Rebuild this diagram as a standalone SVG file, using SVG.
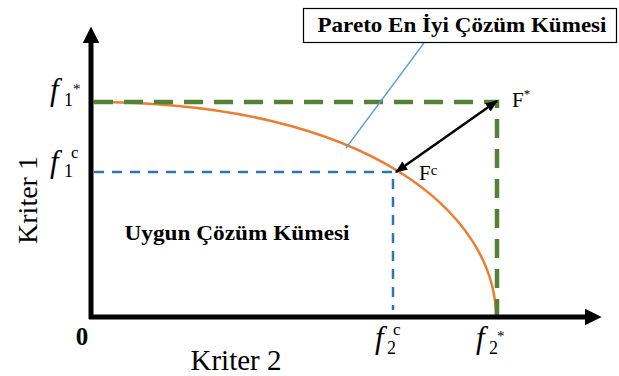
<svg xmlns="http://www.w3.org/2000/svg" width="619" height="376" viewBox="0 0 619 376">
<style>
.serif{font-family:"Liberation Serif","Times New Roman",serif;fill:#000}
.b{font-weight:bold}
.it{font-style:italic}
</style>
<defs>
<marker id="axh" viewBox="0 0 10 10" refX="2" refY="5" markerWidth="3.4" markerHeight="3.4" orient="auto" markerUnits="strokeWidth">
<path d="M0,0 L10,5 L0,10 z" fill="#000"/>
</marker>
<marker id="ah" viewBox="0 0 10 10" refX="9" refY="5" markerWidth="5" markerHeight="5" orient="auto-start-reverse" markerUnits="strokeWidth">
<path d="M0,1 L10,5 L0,9 z" fill="#000"/>
</marker>
</defs>
<rect width="619" height="376" fill="#fff"/>
<g id="connectors">
<path d="M92,102 C370,102 496,215 496,317" fill="none" stroke="#ED7D31" stroke-width="2.5"/>
<path d="M94,102 H497 V316" fill="none" stroke="#548235" stroke-width="4.5" stroke-dasharray="19,11"/>
<path d="M94,172 H393 V310" fill="none" stroke="#2E75B6" stroke-width="2.5" stroke-dasharray="10,8"/>
<line x1="424" y1="43" x2="346" y2="148" stroke="#5B9BD5" stroke-width="1.3"/>
<line x1="396" y1="172" x2="497" y2="101" stroke="#000" stroke-width="2.5" marker-start="url(#ah)" marker-end="url(#ah)"/>
<line x1="91" y1="319" x2="91" y2="40" stroke="#000" stroke-width="5" marker-end="url(#axh)"/>
<line x1="89" y1="317" x2="588" y2="317" stroke="#000" stroke-width="5" marker-end="url(#axh)"/>
</g>
<g id="pareto-label">
<rect x="303.5" y="8.5" width="313" height="34" fill="#fff" stroke="#000" stroke-width="1.2"/>
<text class="serif b" x="462" y="32" font-size="21" text-anchor="middle" textLength="289" lengthAdjust="spacingAndGlyphs">Pareto En İyi Çözüm Kümesi</text>
</g>
<g id="feasible-label">
<text class="serif b" x="237" y="240" font-size="22" text-anchor="middle" textLength="225" lengthAdjust="spacingAndGlyphs">Uygun Çözüm Kümesi</text>
</g>
<g id="F-star">
<text class="serif" x="512" y="107" font-size="21">F<tspan font-size="13" dy="-9">*</tspan></text>
</g>
<g id="F-c">
<text class="serif" x="419" y="180" font-size="21">F<tspan font-size="15" dy="-5">c</tspan></text>
</g>
<g id="f1-star">
<text class="serif it" x="50" y="100" font-size="31">f</text>
<text class="serif" x="64" y="106" font-size="18">1</text>
<text class="serif" x="73" y="94" font-size="15">*</text>
</g>
<g id="f1-c">
<text class="serif it" x="50" y="172" font-size="31">f</text>
<text class="serif" x="64" y="177" font-size="18">1</text>
<text class="serif" x="71" y="158" font-size="17">c</text>
</g>
<g id="f2-c">
<text class="serif it" x="375" y="348" font-size="31">f</text>
<text class="serif" x="387" y="354" font-size="18">2</text>
<text class="serif" x="393" y="335" font-size="17">c</text>
</g>
<g id="f2-star">
<text class="serif it" x="476" y="348" font-size="31">f</text>
<text class="serif" x="489" y="354" font-size="18">2</text>
<text class="serif" x="497" y="341" font-size="15">*</text>
</g>
<g id="origin">
<text class="serif b" x="82" y="345" font-size="25" text-anchor="middle">0</text>
</g>
<g id="axis-labels">
<text class="serif" x="236" y="370" font-size="29" text-anchor="middle">Kriter 2</text>
<text class="serif" x="0" y="0" font-size="28" text-anchor="middle" transform="translate(37,200) rotate(-90)">Kriter 1</text>
</g>
</svg>
